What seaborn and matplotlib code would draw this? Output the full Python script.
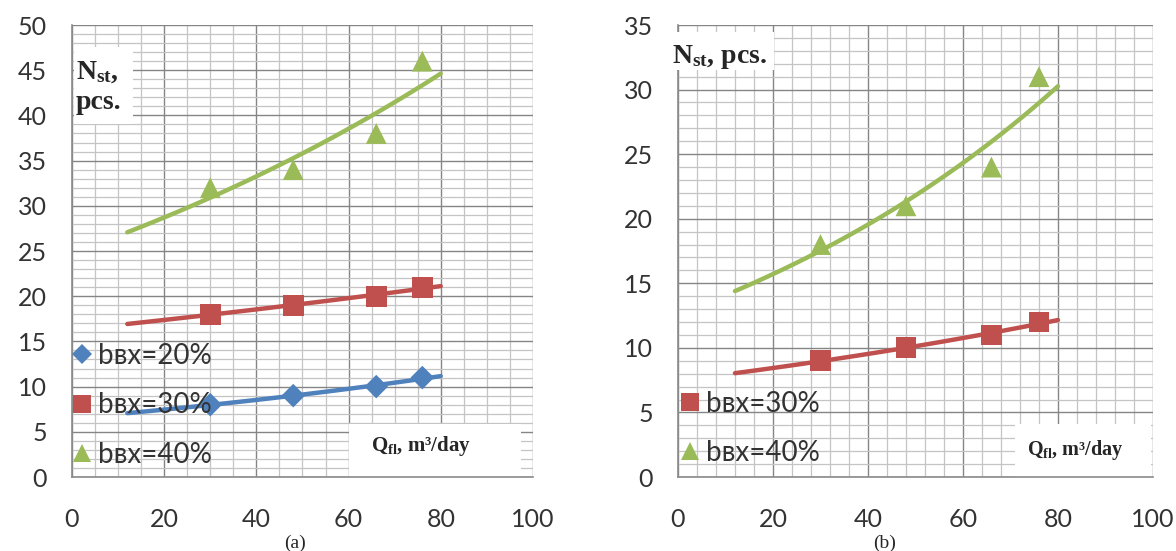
import numpy as np
import pandas as pd
import seaborn as sns
import matplotlib
matplotlib.use("Agg")
import matplotlib.pyplot as plt
from matplotlib.ticker import MultipleLocator
from matplotlib.lines import Line2D
from matplotlib.patches import Rectangle

# ---------------- data ----------------
q_points = [30, 48, 66, 76]
a_b20 = [8, 9, 10, 11]
a_b30 = [18, 19, 20, 21]
a_b40 = [32, 34, 38, 46]
b_b30 = [9, 10, 11, 12]
b_b40 = [18, 21, 24, 31]
trend_range = [12, 80]
x_ticks = [0, 20, 40, 60, 80, 100]
a_y_ticks = [0, 5, 10, 15, 20, 25, 30, 35, 40, 45, 50]
b_y_ticks = [0, 5, 10, 15, 20, 25, 30, 35]
series_labels = ["bвх=20%", "bвх=30%", "bвх=40%"]

# ---------------- style ----------------
sns.set_style("white")
plt.rcParams["font.family"] = ["Lato", "DejaVu Sans"]
plt.rcParams["mathtext.fontset"] = "custom"
plt.rcParams["mathtext.rm"] = "Liberation Serif:bold"
plt.rcParams["mathtext.bf"] = "Liberation Serif:bold"
plt.rcParams["mathtext.it"] = "Liberation Serif:bold"

colors = {"bвх=20%": "#4F81BD", "bвх=30%": "#C0504D", "bвх=40%": "#9BBB59"}
markers = {"bвх=20%": "D", "bвх=30%": "s", "bвх=40%": "^"}
msize = {"bвх=20%": 12, "bвх=30%": 15, "bвх=40%": 15}
leg_msize = {"bвх=20%": 10, "bвх=30%": 13, "bвх=40%": 13}

fig = plt.figure(figsize=(11.76, 5.51), dpi=100)
ax_a = fig.add_axes([0.0612, 0.1343, 0.3920, 0.8203])
ax_b = fig.add_axes([0.5765, 0.1343, 0.4039, 0.8203])


def exp_trend(x, y):
    b, a = np.polyfit(np.asarray(x, float), np.log(np.asarray(y, float)), 1)
    xs = np.linspace(trend_range[0], trend_range[1], 120)
    return xs, np.exp(a + b * xs)


def draw_series(ax, label, ys):
    df = pd.DataFrame({"Q": q_points, "N": ys})
    xs, ts = exp_trend(q_points, ys)
    sns.lineplot(x=xs, y=ts, ax=ax, color=colors[label], linewidth=3.2,
                 legend=False, zorder=2)
    sns.scatterplot(data=df, x="Q", y="N", ax=ax, marker=markers[label],
                    s=msize[label] ** 2, color=colors[label], edgecolor="none",
                    linewidth=0, legend=False, zorder=3)


def style_axes(ax, ymax, yticks, xminor):
    ax.set_xlim(0, 100)
    ax.set_ylim(0, ymax)
    ax.set_xticks(x_ticks)
    ax.set_yticks(yticks)
    ax.xaxis.set_minor_locator(MultipleLocator(xminor))
    ax.yaxis.set_minor_locator(MultipleLocator(1))
    ax.set_axisbelow(True)
    ax.grid(which="major", color="#858585", linewidth=1.0)
    ax.grid(which="minor", color="#c4c4c4", linewidth=0.9)
    for s in ["top", "right"]:
        ax.spines[s].set_visible(False)
    for s in ["left", "bottom"]:
        ax.spines[s].set_color("#8a8a8a")
        ax.spines[s].set_linewidth(1.2)
    ax.tick_params(axis="both", which="major", direction="out", length=7,
                   width=1.0, color="#8a8a8a", labelsize=18, labelcolor="#333333")
    ax.tick_params(axis="y", which="major", pad=11)
    ax.tick_params(axis="x", which="major", pad=15)
    ax.tick_params(axis="x", which="minor", direction="in", length=6,
                   width=0.9, color="#8a8a8a")
    ax.tick_params(axis="y", which="minor", length=0)
    ax.set_xlabel("")
    ax.set_ylabel("")


def add_legend(ax, labels, anchor, spacing):
    handles = [Line2D([], [], linestyle="none", marker=markers[l],
                      markersize=leg_msize[l], color=colors[l],
                      markeredgewidth=0) for l in labels]
    leg = ax.legend(handles, labels, loc="lower left", bbox_to_anchor=anchor,
                    frameon=False, fontsize=20, handlelength=0.75,
                    handletextpad=0.2, labelspacing=spacing, borderpad=0,
                    borderaxespad=0)
    for t in leg.get_texts():
        t.set_color("#333333")


# ---------------- panel (a) ----------------
draw_series(ax_a, "bвх=20%", a_b20)
draw_series(ax_a, "bвх=30%", a_b30)
draw_series(ax_a, "bвх=40%", a_b40)
style_axes(ax_a, 50, a_y_ticks, 5)
add_legend(ax_a, series_labels, (0.0, 0.02), 0.85)

ax_a.add_patch(Rectangle((0.004, 0.78), 0.128, 0.172, transform=ax_a.transAxes,
                         facecolor="white", edgecolor="none", zorder=1))
ax_a.text(0.008, 0.862, "N$_{\\mathbf{st}}$,\npcs.", transform=ax_a.transAxes,
          ha="left", va="center", fontsize=20, fontweight="bold",
          family="Liberation Serif", linespacing=1.25, zorder=4)
ax_a.add_patch(Rectangle((0.6, 0.0), 0.375, 0.118, transform=ax_a.transAxes,
                         facecolor="white", edgecolor="none", zorder=1))
ax_a.text(0.757, 0.068, "Q$_{\\mathbf{fl}}$, m³/day", transform=ax_a.transAxes,
          ha="center", va="center", fontsize=15, fontweight="bold",
          family="Liberation Serif", zorder=4)

# ---------------- panel (b) ----------------
draw_series(ax_b, "bвх=30%", b_b30)
draw_series(ax_b, "bвх=40%", b_b40)
style_axes(ax_b, 35, b_y_ticks, 4)
add_legend(ax_b, series_labels[1:], (0.003, 0.024), 0.85)

ax_b.add_patch(Rectangle((-0.032, 0.9), 0.235, 0.085, transform=ax_b.transAxes,
                         facecolor="white", edgecolor="none", zorder=3,
                         clip_on=False))
ax_b.text(-0.013, 0.93, "N$_{\\mathbf{st}}$, pcs.", transform=ax_b.transAxes,
          ha="left", va="center", fontsize=20, fontweight="bold",
          family="Liberation Serif", zorder=4)
ax_b.add_patch(Rectangle((0.71, 0.0), 0.285, 0.118, transform=ax_b.transAxes,
                         facecolor="white", edgecolor="none", zorder=1))
ax_b.text(0.836, 0.06, "Q$_{\\mathbf{fl}}$, m³/day", transform=ax_b.transAxes,
          ha="center", va="center", fontsize=14.5, fontweight="bold",
          family="Liberation Serif", zorder=4)

# ---------------- captions ----------------
fig.text(0.251, 0.0145, "(a)", ha="center", va="center", fontsize=14,
         family="Liberation Serif")
fig.text(0.7526, 0.0145, "(b)", ha="center", va="center", fontsize=14,
         family="Liberation Serif")

fig.savefig("out.png", dpi=100, facecolor="white")
